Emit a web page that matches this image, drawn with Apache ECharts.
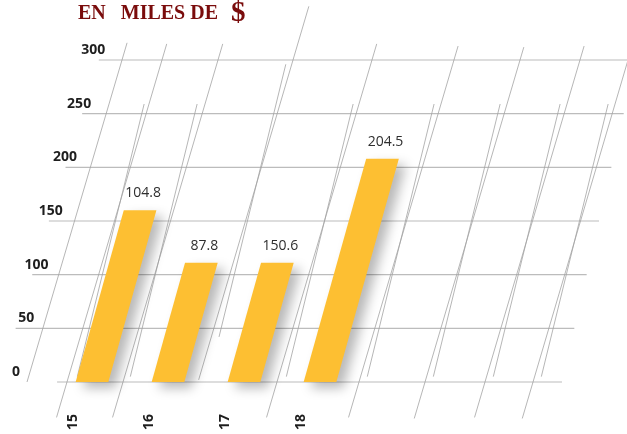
<!DOCTYPE html>
<html>
<head>
<meta charset="utf-8">
<script src="https://cdn.jsdelivr.net/npm/echarts@6/dist/echarts.min.js"></script>
<style>
html, body { margin: 0; padding: 0; background: #fff; }
#main { width: 627px; height: 434px; }
</style>
</head>
<body>
<div id="main"></div>
<script>
// data
var categories = ['15', '16', '17', '18'];
var barHeights = [160, 111, 111, 208];          // bar tops as drawn
var barLabels = ['104.8', '87.8', '150.6', '204.5']; // figures printed above the bars
var yTicks = [0, 50, 100, 150, 200, 250, 300];

// decoration: slanted guide lines -> [foot position in band units, from value, to value]
var longLines = [
    [-0.855, 0, 316], [-0.329, -33, 315], [0.408, -33, 315], [1.395, 2, 350],
    [2.434, -33, 315], [3.513, -33, 313], [4.382, -34, 312], [5.171, -33, 313], [5.803, -34, 345]
];
var shortLines = [
    [-0.21, 5, 259], [0.487, 5, 259], [1.526, 42, 296], [2.54, 5, 259],
    [3.605, 5, 259], [4.474, 5, 259], [5.263, 5, 259], [5.895, 5, 259]
];

var BAR_SKEW = 0.28, LONG_SKEW = 0.295, SHORT_SKEW = 0.245;
var BAR_HALF = 0.215;

// point at value v, sheared sideways as it goes up
function skewPoint(api, t, v, k) {
    var base = api.coord([t, 0]);
    var p = api.coord([t, v]);
    return [base[0] + k * (base[1] - p[1]), p[1]];
}

function slantLine(k) {
    return function (params, api) {
        var t = api.value(0);
        var a = skewPoint(api, t, api.value(1), k);
        var b = skewPoint(api, t, api.value(2), k);
        return {
            type: 'line',
            shape: { x1: a[0], y1: a[1], x2: b[0], y2: b[1] },
            style: { stroke: '#a3a3a3', lineWidth: 0.8 }
        };
    };
}

var myChart = echarts.init(document.getElementById('main'));

var option = {
    animation: false,
    graphic: [
        {
            type: 'text',
            left: 78, top: 4,
            style: {
                text: 'EN   MILES DE',
                font: 'bold 20px "Liberation Serif"',
                fill: '#7a0c0c'
            }
        },
        {
            type: 'text',
            left: 231, top: -1,
            style: {
                text: '$',
                font: 'bold 29px "Liberation Serif"',
                fill: '#7a0c0c'
            }
        }
    ],
    grid: { left: 0, right: 0, top: 60, bottom: 52 },
    xAxis: { type: 'value', min: -1.2105, max: 7.0395, show: false },
    yAxis: { type: 'value', min: 0, max: 300, show: false },
    series: [
        {
            // horizontal grid lines + value labels
            type: 'custom',
            silent: true,
            z: 1,
            data: yTicks.map(function (v) { return [0, v]; }),
            renderItem: function (params, api) {
                var v = api.value(1);
                var l = skewPoint(api, v === 0 ? -0.46 : -1.224, v, 0.31);
                var r = skewPoint(api, 6.184, v, 0.23);
                var lab = skewPoint(api, -0.947, v, 0.265);
                return {
                    type: 'group',
                    children: [
                        {
                            type: 'line',
                            shape: { x1: l[0], y1: l[1], x2: r[0], y2: r[1] },
                            style: { stroke: '#bcbcbc', lineWidth: 1.2 }
                        },
                        {
                            type: 'text',
                            x: lab[0], y: lab[1] - 10,
                            style: {
                                text: String(v), align: 'right', verticalAlign: 'middle',
                                font: 'bold 14px "Open Sans"', fill: '#1e1e1e'
                            }
                        }
                    ]
                };
            }
        },
        {
            type: 'custom',
            silent: true,
            z: 1,
            data: longLines,
            renderItem: slantLine(LONG_SKEW)
        },
        {
            type: 'custom',
            silent: true,
            z: 1,
            data: shortLines,
            renderItem: slantLine(SHORT_SKEW)
        },
        {
            // the slanted bars
            type: 'custom',
            silent: true,
            z: 3,
            data: barHeights.map(function (h, i) { return [i, h]; }),
            renderItem: function (params, api) {
                var i = api.value(0), h = api.value(1);
                var p1 = skewPoint(api, i - BAR_HALF, 0, BAR_SKEW);
                var p2 = skewPoint(api, i + BAR_HALF, 0, BAR_SKEW);
                var p3 = skewPoint(api, i + BAR_HALF, h, BAR_SKEW);
                var p4 = skewPoint(api, i - BAR_HALF, h, BAR_SKEW);
                var top = skewPoint(api, i, h, BAR_SKEW);
                var foot = api.coord([i, 0]);
                return {
                    type: 'group',
                    children: [
                        {
                            type: 'polygon',
                            shape: { points: [p1, p2, p3, p4] },
                            style: {
                                fill: '#fdbf32',
                                shadowBlur: 12,
                                shadowColor: 'rgba(0,0,0,0.28)',
                                shadowOffsetX: 7,
                                shadowOffsetY: 6
                            }
                        },
                        {
                            type: 'text',
                            x: top[0] + 3, y: top[1] - 17,
                            style: {
                                text: barLabels[i], align: 'center', verticalAlign: 'middle',
                                font: '14px "Open Sans"', fill: '#2e2e2e'
                            }
                        },
                        {
                            type: 'text',
                            x: foot[0] - 19, y: foot[1] + 40,
                            rotation: Math.PI / 2,
                            style: {
                                text: categories[i], align: 'center', verticalAlign: 'middle',
                                font: 'bold 14px "Open Sans"', fill: '#1e1e1e'
                            }
                        }
                    ]
                };
            }
        }
    ]
};

myChart.setOption(option);
</script>
</body>
</html>
